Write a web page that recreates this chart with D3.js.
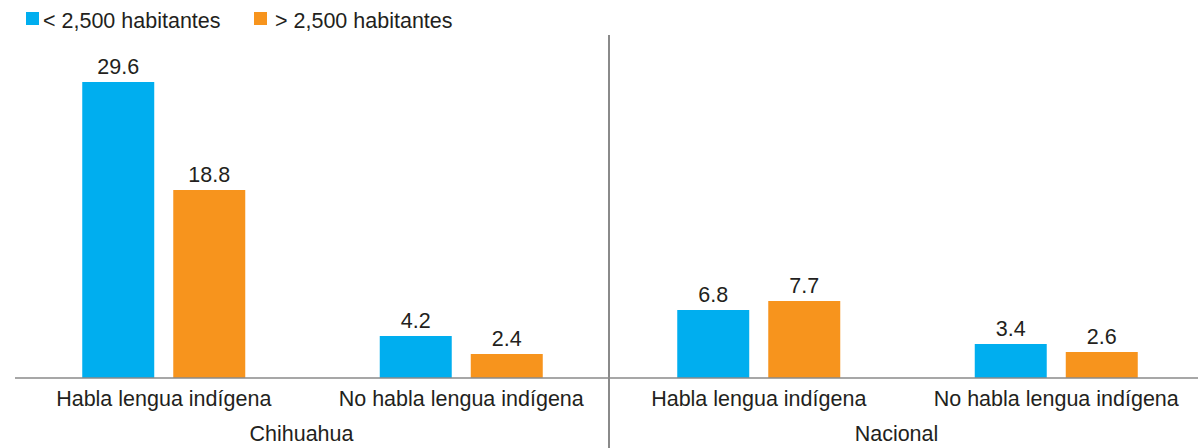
<!DOCTYPE html>
<html>
<head>
<meta charset="utf-8">
<script src="https://cdn.jsdelivr.net/npm/d3@7"></script>
<style>
  body { margin: 0; background: #fff; }
  svg { display: block; font-family: "Liberation Sans", Arial, sans-serif; }
  text { fill: #231f20; }
</style>
</head>
<body>
<svg width="1198" height="448"></svg>
<script>
var groups = ["Chihuahua", "Nacional"];
var categories = ["Habla lengua indígena", "No habla lengua indígena"];
var seriesNames = ["< 2,500 habitantes", "> 2,500 habitantes"];
var menos2500 = [29.6, 4.2, 6.8, 3.4];
var mas2500 = [18.8, 2.4, 7.7, 2.6];
var colors = ["#00aeef", "#f7941d"];

// one row per group/category pair
var rows = [];
groups.forEach(function(g, gi) {
  categories.forEach(function(c, ci) {
    var i = gi * categories.length + ci;
    rows.push({key: g + "|" + c, group: g, cat: c, vals: [menos2500[i], mas2500[i]]});
  });
});

var svg = d3.select("svg");
var baseY = 378;
var fs = "21.5px";

var x = d3.scaleBand()
  .domain(rows.map(function(d) { return d.key; }))
  .range([15, 1205]);

var xSub = d3.scaleBand()
  .domain(seriesNames)
  .range([0, 163])
  .paddingInner(0.209);

var y = d3.scaleLinear()
  .domain([0, 30])
  .range([baseY, baseY - 300]);

// bars
var rowG = svg.selectAll("g.row").data(rows).enter()
  .append("g")
  .attr("class", "row")
  .attr("transform", function(d) {
    return "translate(" + (x(d.key) + x.bandwidth() / 2 - 81.5) + ",0)";
  });

rowG.selectAll("rect")
  .data(function(d) { return d.vals.map(function(v, i) { return {name: seriesNames[i], v: v, i: i}; }); })
  .enter().append("rect")
  .attr("x", function(d) { return xSub(d.name); })
  .attr("y", function(d) { return y(d.v); })
  .attr("width", xSub.bandwidth())
  .attr("height", function(d) { return baseY - y(d.v); })
  .attr("fill", function(d) { return colors[d.i]; });

rowG.selectAll("text.val")
  .data(function(d) { return d.vals.map(function(v, i) { return {name: seriesNames[i], v: v}; }); })
  .enter().append("text")
  .attr("class", "val")
  .attr("x", function(d) { return xSub(d.name) + xSub.bandwidth() / 2; })
  .attr("y", function(d) { return y(d.v) - 8; })
  .attr("text-anchor", "middle")
  .style("font-size", fs)
  .text(function(d) { return d.v.toFixed(1); });

// axis line
svg.append("line")
  .attr("x1", x.range()[0]).attr("x2", 1198)
  .attr("y1", baseY).attr("y2", baseY)
  .attr("stroke", "#8a8a8a").attr("stroke-width", 1.5);

// category labels
svg.selectAll("text.cat").data(rows).enter()
  .append("text")
  .attr("class", "cat")
  .attr("x", function(d) { return x(d.key) + x.bandwidth() / 2; })
  .attr("y", 406)
  .attr("text-anchor", "middle")
  .style("font-size", fs)
  .text(function(d) { return d.cat; });

// group separator and labels
var groupW = x.step() * categories.length;
groups.forEach(function(g, gi) {
  var start = x(g + "|" + categories[0]);
  if (gi > 0) {
    svg.append("line")
      .attr("x1", start - 1).attr("x2", start - 1)
      .attr("y1", 35).attr("y2", 448)
      .attr("stroke", "#8a8a8a").attr("stroke-width", 2);
  }
  svg.append("text")
    .attr("x", start + groupW / 2 - 11)
    .attr("y", 441)
    .attr("text-anchor", "middle")
    .style("font-size", fs)
    .text(g);
});

// legend
var legendX = [26, 254];
var legendGap = [17, 21];
var legend = svg.selectAll("g.legend").data(seriesNames).enter()
  .append("g")
  .attr("class", "legend")
  .attr("transform", function(d, i) { return "translate(" + legendX[i] + ",12)"; });
legend.append("rect")
  .attr("width", 13).attr("height", 13)
  .attr("fill", function(d, i) { return colors[i]; });
legend.append("text")
  .attr("x", function(d, i) { return legendGap[i]; })
  .attr("y", 16)
  .style("font-size", fs)
  .text(function(d) { return d; });
</script>
</body>
</html>
